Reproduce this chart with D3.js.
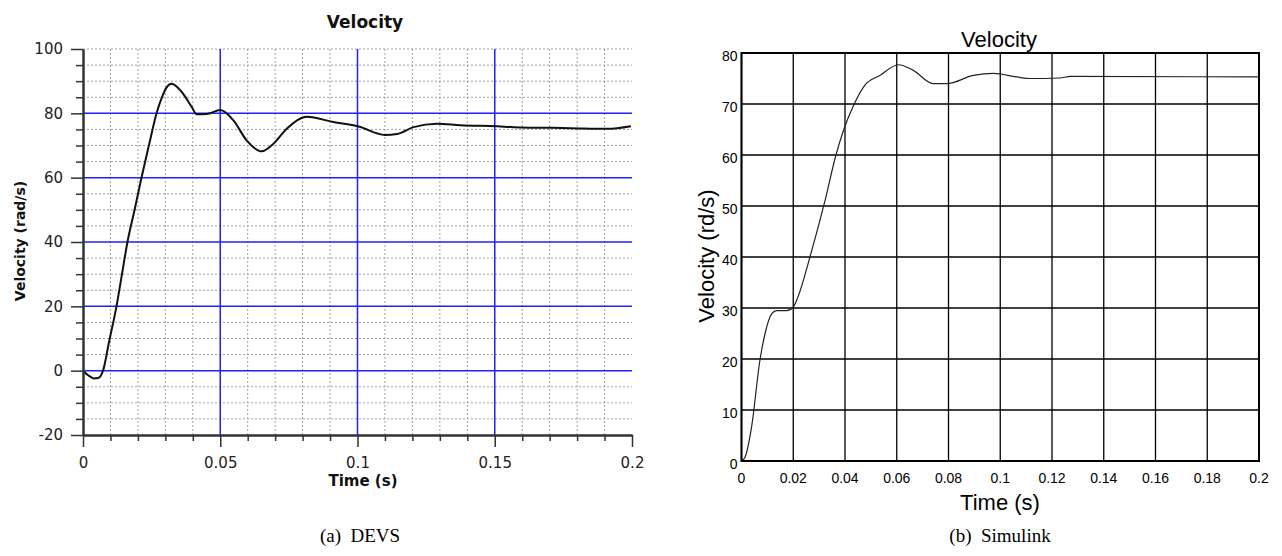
<!DOCTYPE html>
<html>
<head>
<meta charset="utf-8">
<script src="https://cdn.jsdelivr.net/npm/d3@7"></script>
<style>
  body { margin: 0; background: #fff; }
  svg { display: block; }
</style>
</head>
<body>
<div id="chart"></div>
<script>
// (a) DEVS velocity
const devsTime = [0, 0.002, 0.004, 0.0055, 0.0073, 0.0095, 0.0122, 0.0142, 0.0162, 0.0188, 0.0213, 0.024, 0.0268, 0.029, 0.0304, 0.0323, 0.0359, 0.0396, 0.0414, 0.045, 0.05, 0.0548, 0.0596, 0.0651, 0.0693, 0.0742, 0.0815, 0.0912, 0.1004, 0.110, 0.1144, 0.1204, 0.129, 0.1375, 0.151, 0.157, 0.1776, 0.191, 0.1996]
const devsVel = [0, -1.5, -2.4, -2.3, 0, 9, 20, 30, 40, 50, 60, 70, 80, 85.5, 88, 89.2, 86.7, 82, 79.7, 79.8, 81, 77.8, 71.6, 68.2, 70.5, 75.2, 78.9, 77.3, 75.9, 73.3, 73.6, 75.7, 76.8, 76.3, 76, 75.7, 75.4, 75.2, 76]
// (b) Simulink velocity
const simTime = [0, 0.0014, 0.0039, 0.0071, 0.0091, 0.0117, 0.0136, 0.0175, 0.02, 0.0213, 0.027, 0.0323, 0.0365, 0.0394, 0.0432, 0.0477, 0.0535, 0.0606, 0.0664, 0.0741, 0.0793, 0.0896, 0.0973, 0.1064, 0.1115, 0.123, 0.127, 0.2]
const simVel = [0, 0.8, 6.7, 19.7, 25, 28.9, 29.5, 29.5, 30.2, 31.5, 41, 51.1, 60, 64.8, 69.6, 73.7, 75.6, 77.7, 76.6, 74, 74, 75.6, 76, 75.3, 75, 75.1, 75.4, 75.3]

// ticks
const devsXMajor = [0, 0.05, 0.1, 0.15, 0.2]
const devsXMinor = [0.01, 0.02, 0.03, 0.04, 0.06, 0.07, 0.08, 0.09, 0.11, 0.12, 0.13, 0.14, 0.16, 0.17, 0.18, 0.19]
const devsYMajor = [-20, 0, 20, 40, 60, 80, 100]
const devsYMinor = [-15, -10, -5, 5, 10, 15, 25, 30, 35, 45, 50, 55, 65, 70, 75, 85, 90, 95]
const simXTicks = [0, 0.02, 0.04, 0.06, 0.08, 0.1, 0.12, 0.14, 0.16, 0.18, 0.2]
const simYTicks = [0, 10, 20, 30, 40, 50, 60, 70, 80]

const svg = d3.select("#chart").append("svg")
  .attr("width", 1282)
  .attr("height", 556)
svg.append("rect").attr("width", 1282).attr("height", 556).attr("fill", "#fff")

// ---------- left: DEVS ----------
const xL = d3.scaleLinear().domain([0, 0.2]).range([83, 632])
const yL = d3.scaleLinear().domain([-20, 100]).range([435, 49])
const left = svg.append("g").attr("font-family", "DejaVu Sans")

// dashed minor grid
left.append("g").selectAll("line")
  .data(devsXMinor)
  .join("line")
  .attr("x1", d => xL(d)).attr("x2", d => xL(d))
  .attr("y1", yL(100)).attr("y2", yL(-20))
left.append("g").selectAll("line")
  .data(devsYMinor.concat([100]))
  .join("line")
  .attr("x1", xL(0)).attr("x2", xL(0.2))
  .attr("y1", d => yL(d)).attr("y2", d => yL(d))
left.selectAll("g line")
  .attr("stroke", "#a0a0a0")
  .attr("stroke-width", 1)
  .attr("stroke-dasharray", "2,2")

// blue major grid
left.append("g").selectAll("line")
  .data(devsXMajor.filter(d => d > 0 && d < 0.2))
  .join("line")
  .attr("x1", d => xL(d)).attr("x2", d => xL(d))
  .attr("y1", yL(100)).attr("y2", yL(-20))
  .attr("stroke", "#1f1fff").attr("stroke-width", 1.5)
left.append("g").selectAll("line")
  .data(devsYMajor.filter(d => d > -20 && d < 100))
  .join("line")
  .attr("x1", xL(0)).attr("x2", xL(0.2))
  .attr("y1", d => yL(d)).attr("y2", d => yL(d))
  .attr("stroke", "#1f1fff").attr("stroke-width", 1.5)

left.append("path")
  .datum(devsTime.map((t, i) => [t, devsVel[i]]))
  .attr("fill", "none")
  .attr("stroke", "#111")
  .attr("stroke-width", 2)
  .attr("d", d3.line().x(d => xL(d[0])).y(d => yL(d[1])).curve(d3.curveMonotoneX))

// axes
const styleAxis = g => {
  g.select(".domain").attr("stroke", "#333").attr("stroke-width", 2)
  g.selectAll(".tick line").attr("stroke", "#333").attr("stroke-width", 1.5)
  g.selectAll("text").attr("fill", "#222").attr("font-size", 15)
    .attr("font-family", "DejaVu Sans")
}
left.append("g")
  .attr("transform", `translate(${xL(0)},0)`)
  .call(d3.axisLeft(yL).tickValues(devsYMinor).tickSize(7).tickFormat("").tickSizeOuter(0))
  .call(styleAxis)
left.append("g")
  .attr("transform", `translate(${xL(0)},0)`)
  .call(d3.axisLeft(yL).tickValues(devsYMajor).tickSize(12).tickPadding(8).tickFormat(d => String(d)).tickSizeOuter(0))
  .call(styleAxis)
left.append("g")
  .attr("transform", `translate(0,${yL(-20)})`)
  .call(d3.axisBottom(xL).tickValues(devsXMinor).tickSize(6).tickFormat("").tickSizeOuter(0))
  .call(styleAxis)
left.append("g")
  .attr("transform", `translate(0,${yL(-20)})`)
  .call(d3.axisBottom(xL).tickValues(devsXMajor).tickSize(12).tickPadding(10).tickFormat(d => String(d)).tickSizeOuter(0))
  .call(styleAxis)

left.append("text")
  .attr("x", 365).attr("y", 28)
  .attr("text-anchor", "middle")
  .attr("font-size", 17).attr("font-weight", "bold").attr("fill", "#111")
  .text("Velocity")
left.append("text")
  .attr("transform", "translate(25,241) rotate(-90)")
  .attr("text-anchor", "middle")
  .attr("font-size", 14).attr("font-weight", "bold").attr("fill", "#111")
  .text("Velocity (rad/s)")
left.append("text")
  .attr("x", 363).attr("y", 486)
  .attr("text-anchor", "middle")
  .attr("font-size", 15).attr("font-weight", "bold").attr("fill", "#111")
  .text("Time (s)")

// ---------- right: Simulink ----------
const xR = d3.scaleLinear().domain([0, 0.2]).range([741.5, 1259])
const yR = d3.scaleLinear().domain([0, 80]).range([461, 53])
const right = svg.append("g").attr("font-family", "Liberation Sans, Arial, sans-serif")

right.append("g").selectAll("line")
  .data(simXTicks)
  .join("line")
  .attr("x1", d => xR(d)).attr("x2", d => xR(d))
  .attr("y1", yR(80)).attr("y2", yR(0))
  .attr("stroke", "#000").attr("stroke-width", 1.3)
right.append("g").selectAll("line")
  .data(simYTicks)
  .join("line")
  .attr("x1", xR(0)).attr("x2", xR(0.2))
  .attr("y1", d => yR(d)).attr("y2", d => yR(d))
  .attr("stroke", "#000").attr("stroke-width", 1.3)

right.append("path")
  .datum(simTime.map((t, i) => [t, simVel[i]]))
  .attr("fill", "none")
  .attr("stroke", "#222")
  .attr("stroke-width", 1.2)
  .attr("d", d3.line().x(d => xR(d[0])).y(d => yR(d[1])).curve(d3.curveMonotoneX))

right.append("rect")
  .attr("x", xR(0)).attr("y", yR(80))
  .attr("width", xR(0.2) - xR(0)).attr("height", yR(0) - yR(80))
  .attr("fill", "none").attr("stroke", "#000").attr("stroke-width", 2)

right.append("g").selectAll("text")
  .data(simYTicks)
  .join("text")
  .attr("x", xR(0) - 4).attr("y", d => yR(d) + 8)
  .attr("text-anchor", "end")
  .attr("font-size", 14)
  .text(d => d)
right.append("g").selectAll("text")
  .data(simXTicks)
  .join("text")
  .attr("x", d => xR(d)).attr("y", 483)
  .attr("text-anchor", "middle")
  .attr("font-size", 14)
  .text(d => d)

right.append("text")
  .attr("x", 999).attr("y", 47)
  .attr("text-anchor", "middle").attr("font-size", 22)
  .text("Velocity")
right.append("text")
  .attr("transform", "translate(714,256) rotate(-90)")
  .attr("text-anchor", "middle").attr("font-size", 22)
  .text("Velocity (rd/s)")
right.append("text")
  .attr("x", 1000).attr("y", 510)
  .attr("text-anchor", "middle").attr("font-size", 22)
  .text("Time (s)")

// captions
svg.append("text")
  .attr("x", 360).attr("y", 542)
  .attr("text-anchor", "middle")
  .attr("font-family", "Liberation Serif, Times New Roman, serif").attr("font-size", 19)
  .attr("xml:space", "preserve")
  .text("(a)  DEVS")
svg.append("text")
  .attr("x", 1000).attr("y", 542)
  .attr("text-anchor", "middle")
  .attr("font-family", "Liberation Serif, Times New Roman, serif").attr("font-size", 19)
  .attr("xml:space", "preserve")
  .text("(b)  Simulink")
</script>
</body>
</html>
